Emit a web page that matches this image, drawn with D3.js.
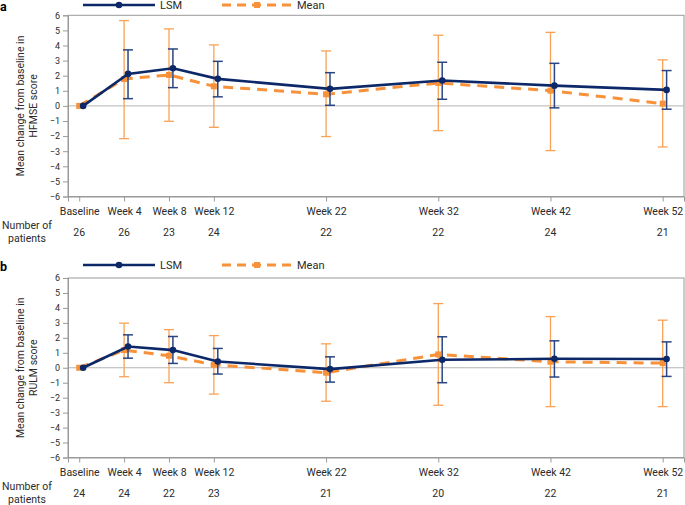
<!DOCTYPE html>
<html>
<head>
<meta charset="utf-8">
<script src="https://cdn.jsdelivr.net/npm/d3@7/dist/d3.min.js"></script>
<style>
  body { margin: 0; background: #fff; }
  svg { font-family: Roboto, "Noto Sans", sans-serif; }
</style>
</head>
<body>
<svg id="chart" width="685" height="505"></svg>
<script>
// Visits (weeks) and labels
const weeks = [0, 4, 8, 12, 22, 32, 42, 52];
const weekLabels = ['Baseline', 'Week 4', 'Week 8', 'Week 12', 'Week 22', 'Week 32', 'Week 42', 'Week 52'];
const yTicks = [6, 5, 4, 3, 2, 1, 0, -1, -2, -3, -4, -5, -6];

// Panel a: HFMSE
const hfmseN = [26, 26, 23, 24, 22, 22, 24, 21];
const hfmseLsm = [0, 2.12, 2.49, 1.79, 1.13, 1.68, 1.34, 1.06];
const hfmseLsmLo = [0, 0.48, 1.21, 0.60, 0.04, 0.44, -0.13, -0.22];
const hfmseLsmHi = [0, 3.71, 3.77, 2.95, 2.20, 2.89, 2.82, 2.34];
const hfmseMean = [0, 1.78, 2.05, 1.30, 0.77, 1.52, 1.01, 0.15];
const hfmseMeanLo = [0, -2.17, -1.02, -1.42, -2.03, -1.64, -2.96, -2.72];
const hfmseMeanHi = [0, 5.65, 5.10, 4.04, 3.64, 4.68, 4.87, 3.05];

// Panel b: RULM
const rulmN = [24, 24, 22, 23, 21, 20, 22, 21];
const rulmLsm = [0, 1.42, 1.18, 0.42, -0.09, 0.53, 0.60, 0.58];
const rulmLsmLo = [0, 0.64, 0.29, -0.42, -0.96, -1.00, -0.62, -0.58];
const rulmLsmHi = [0, 2.20, 2.09, 1.29, 0.73, 2.07, 1.80, 1.73];
const rulmMean = [0, 1.18, 0.80, 0.20, -0.33, 0.89, 0.40, 0.31];
const rulmMeanLo = [0, -0.60, -1.00, -1.76, -2.24, -2.51, -2.60, -2.60];
const rulmMeanHi = [0, 2.98, 2.55, 2.15, 1.60, 4.29, 3.42, 3.18];

const NAVY = '#0c2868';
const NAVY_BAR = '#2a4580';
const ORANGE = '#f7923a';
const ORANGE_BAR = '#f9a257';
const AXIS = '#9a9a9a';
const TEXT = '#2b2b2b';

const svg = d3.select('#chart');
const x = d3.scaleLinear().domain([-1, 53.9]).range([68, 684]);
const lsmShift = 0.35;

function panel(opts) {
    const { letter, top, bottom, legendY, scoreName, n, lsm, lsmLo, lsmHi, mean, meanLo, meanHi } = opts;
    const y = d3.scaleLinear().domain([-6, 6]).range([bottom, top]);
    const g = svg.append('g');

    // Panel letter
    g.append('text').attr('x', 0).attr('y', legendY + 6)
        .attr('font-size', 12.5).attr('font-weight', 700).attr('fill', '#000')
        .text(letter);

    // Legend
    g.append('line').attr('x1', 83).attr('x2', 155).attr('y1', legendY).attr('y2', legendY)
        .attr('stroke', NAVY).attr('stroke-width', 2.6);
    g.append('circle').attr('cx', 119).attr('cy', legendY).attr('r', 3.3).attr('fill', NAVY);
    g.append('text').attr('x', 160).attr('y', legendY + 4)
        .attr('font-size', 11).attr('fill', TEXT).text('LSM');
    g.append('line').attr('x1', 222).attr('x2', 291).attr('y1', legendY).attr('y2', legendY)
        .attr('stroke', ORANGE).attr('stroke-width', 2.8).attr('stroke-dasharray', '9,6');
    g.append('rect').attr('x', 254).attr('y', legendY - 3).attr('width', 6).attr('height', 6).attr('fill', ORANGE);
    g.append('text').attr('x', 297).attr('y', legendY + 4)
        .attr('font-size', 11).attr('fill', TEXT).text('Mean');

    // Plot frame
    g.append('rect').attr('x', x.range()[0]).attr('y', top)
        .attr('width', x.range()[1] - x.range()[0]).attr('height', bottom - top)
        .attr('fill', 'none').attr('stroke', AXIS).attr('stroke-width', 1);

    // Zero line
    g.append('line').attr('x1', x.range()[0]).attr('x2', x.range()[1])
        .attr('y1', y(0)).attr('y2', y(0)).attr('stroke', '#b4b4b4').attr('stroke-width', 1);

    // Y axis
    const yAxis = d3.axisLeft(y).tickValues(yTicks).tickSize(5).tickPadding(3)
        .tickFormat(d => d < 0 ? '\u2212' + Math.abs(d) : d);
    const ya = g.append('g').attr('transform', `translate(${x.range()[0]},0)`).call(yAxis);
    ya.select('.domain').attr('stroke', AXIS);
    ya.selectAll('.tick line').attr('stroke', AXIS);
    ya.selectAll('.tick text').attr('font-size', 9).attr('fill', TEXT).attr('font-family', 'Roboto, sans-serif');

    // X axis
    const xAxis = d3.axisBottom(x).tickValues(weeks).tickSize(5).tickPadding(6)
        .tickFormat((d, i) => weekLabels[i]);
    const xa = g.append('g').attr('transform', `translate(0,${bottom})`).call(xAxis);
    xa.select('.domain').attr('stroke', AXIS);
    xa.selectAll('.tick line').attr('stroke', AXIS);
    xa.selectAll('.tick text').attr('font-size', 10.5).attr('fill', TEXT).attr('font-family', 'Roboto, sans-serif');

    // Y label
    const yl = g.append('text')
        .attr('transform', `translate(24,${(top + bottom) / 2}) rotate(-90)`)
        .attr('text-anchor', 'middle').attr('font-size', 10.5).attr('fill', TEXT);
    yl.append('tspan').attr('x', 0).attr('dy', 0).text('Mean change from baseline in');
    yl.append('tspan').attr('x', 0).attr('dy', 12.5).text(scoreName);

    // Number of patients
    g.append('text').attr('x', 27).attr('y', bottom + 32.5).attr('text-anchor', 'middle')
        .attr('font-size', 10.5).attr('fill', TEXT).text('Number of');
    g.append('text').attr('x', 27).attr('y', bottom + 45).attr('text-anchor', 'middle')
        .attr('font-size', 10.5).attr('fill', TEXT).text('patients');
    g.selectAll('.n').data(n).join('text')
        .attr('x', (d, i) => x(weeks[i])).attr('y', bottom + 39.5)
        .attr('text-anchor', 'middle').attr('font-size', 10.5).attr('fill', TEXT)
        .text(d => d);

    const meanData = weeks.map((w, i) => ({ w, v: mean[i], lo: meanLo[i], hi: meanHi[i] }));
    const lsmData = weeks.map((w, i) => ({ w: w + lsmShift, v: lsm[i], lo: lsmLo[i], hi: lsmHi[i] }));

    // Error bars
    function errorBars(data, color, cap, width) {
        const eb = g.append('g');
        data.filter(d => d.hi !== d.lo).forEach(d => {
            eb.append('line').attr('x1', x(d.w)).attr('x2', x(d.w))
                .attr('y1', y(d.lo)).attr('y2', y(d.hi)).attr('stroke', color).attr('stroke-width', width);
            [d.lo, d.hi].forEach(v => {
                eb.append('line').attr('x1', x(d.w) - cap).attr('x2', x(d.w) + cap)
                    .attr('y1', y(v)).attr('y2', y(v)).attr('stroke', color).attr('stroke-width', width);
            });
        });
    }
    errorBars(meanData, ORANGE_BAR, 5, 1.3);

    // Mean dashed line
    const line = d3.line().x(d => x(d.w)).y(d => y(d.v));
    g.append('path').datum(meanData).attr('d', line)
        .attr('fill', 'none').attr('stroke', ORANGE).attr('stroke-width', 3)
        .attr('stroke-dasharray', '10,7');
    g.selectAll('.msq').data(meanData).join('rect')
        .attr('x', d => x(d.w) - 3).attr('y', d => y(d.v) - 3)
        .attr('width', 6).attr('height', 6).attr('fill', ORANGE);

    errorBars(lsmData, NAVY_BAR, 5, 1.5);
    g.append('path').datum(lsmData).attr('d', line)
        .attr('fill', 'none').attr('stroke', NAVY).attr('stroke-width', 2.6);
    g.selectAll('.lc').data(lsmData).join('circle')
        .attr('cx', d => x(d.w)).attr('cy', d => y(d.v)).attr('r', 3.3).attr('fill', NAVY);
}

panel({ letter: 'a', top: 15.3, bottom: 196.5, legendY: 5, scoreName: 'HFMSE score', n: hfmseN,
    lsm: hfmseLsm, lsmLo: hfmseLsmLo, lsmHi: hfmseLsmHi,
    mean: hfmseMean, meanLo: hfmseMeanLo, meanHi: hfmseMeanHi });

panel({ letter: 'b', top: 278, bottom: 457.5, legendY: 265, scoreName: 'RULM score', n: rulmN,
    lsm: rulmLsm, lsmLo: rulmLsmLo, lsmHi: rulmLsmHi,
    mean: rulmMean, meanLo: rulmMeanLo, meanHi: rulmMeanHi });
</script>
</body>
</html>
